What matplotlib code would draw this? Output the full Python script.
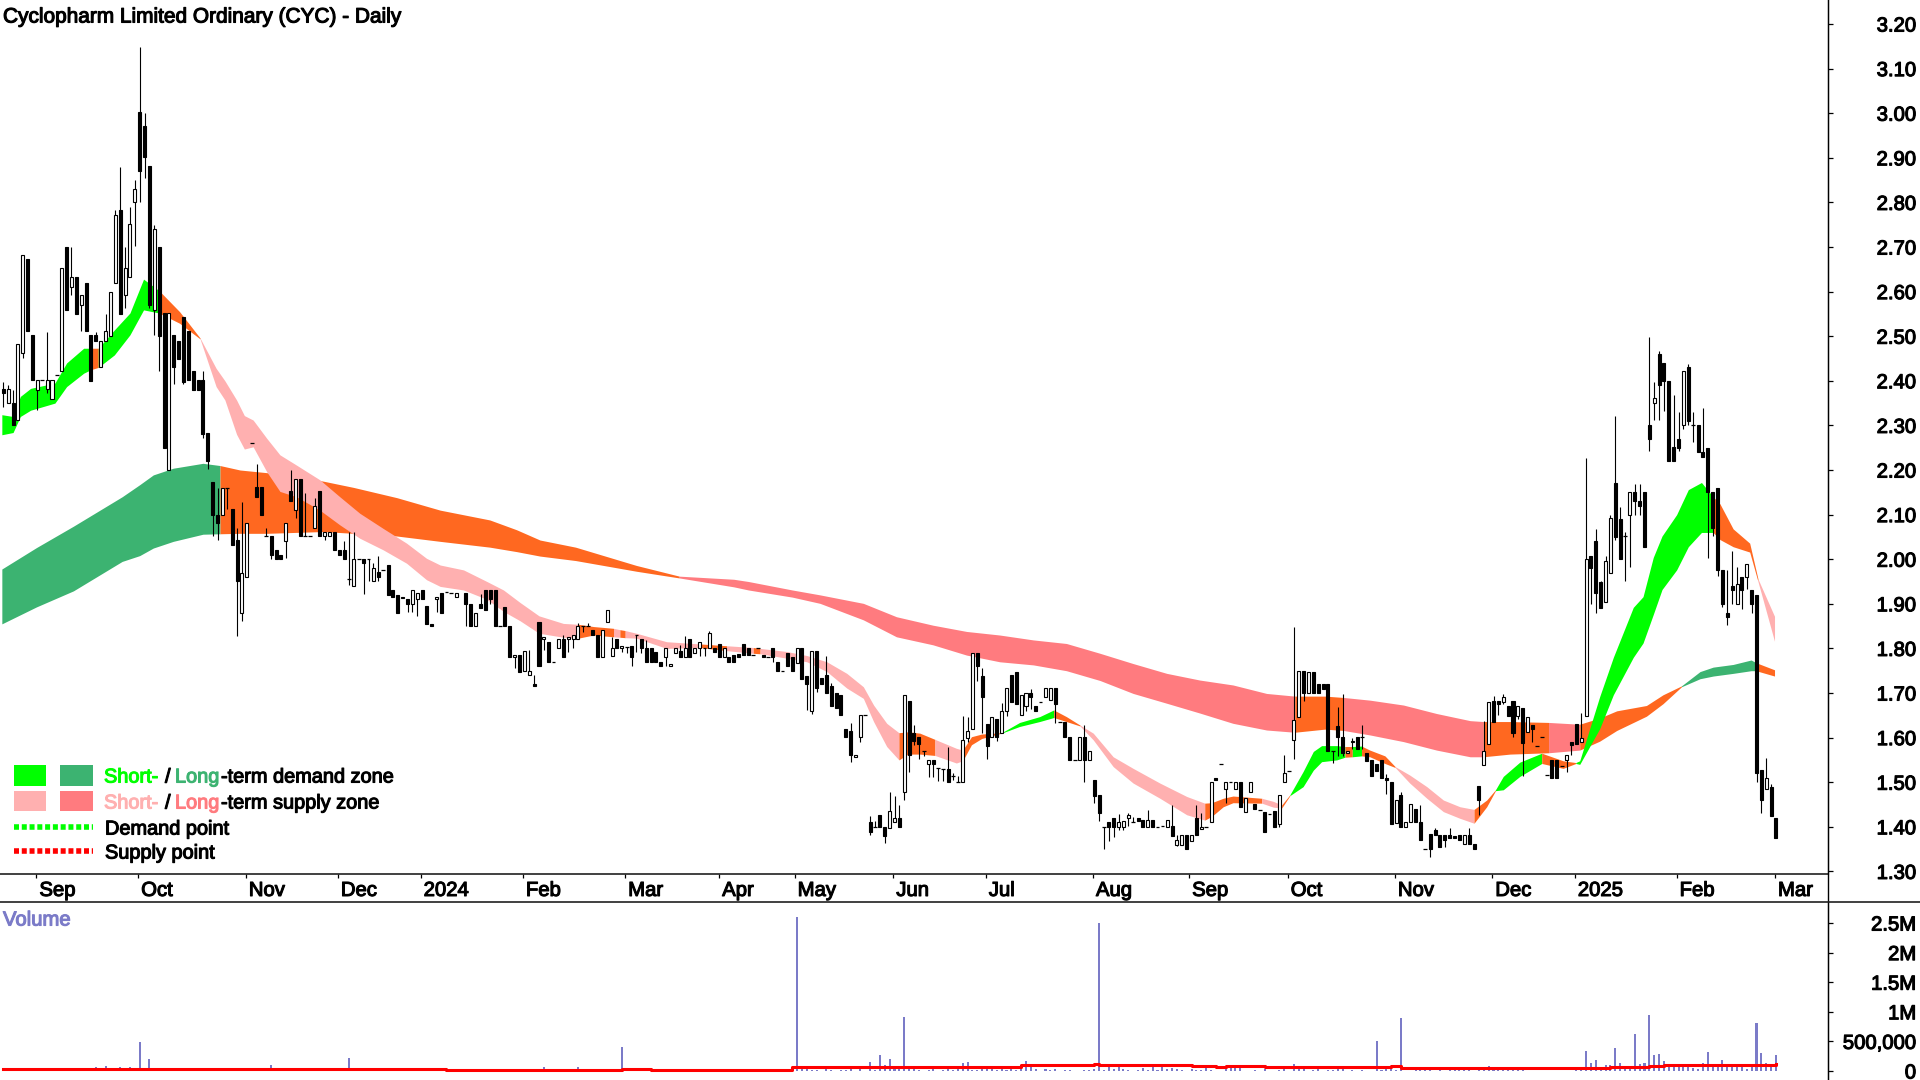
import matplotlib
matplotlib.use("Agg")
import matplotlib.pyplot as plt
import matplotlib.patheffects as pe
from matplotlib.transforms import ScaledTranslation
from matplotlib.lines import Line2D
from matplotlib.patches import Rectangle

nan = float('nan')
TITLE = "Cyclopharm Limited Ordinary (CYC) - Daily"

opens = [
2.381,2.351,2.351,2.311,2.462,2.673,2.503,2.380,2.401,2.381,
2.360,2.412,2.421,2.701,2.611,2.632,2.571,2.620,2.503,2.503,
2.432,2.490,2.501,2.620,2.782,2.593,2.632,2.800,3.002,2.971,
2.881,2.559,2.701,2.552,2.200,2.503,2.490,2.543,2.511,2.421,
2.401,2.401,2.282,2.172,2.099,2.099,2.160,2.112,2.042,1.879,
1.961,2.261,2.161,2.161,2.051,2.051,2.021,2.010,2.041,2.152,
2.110,2.180,2.051,2.051,2.069,2.152,2.051,2.051,2.060,2.021,
2.021,1.956,1.940,2.001,2.001,2.001,1.951,1.971,1.976,1.986,
1.931,1.919,1.916,1.911,1.900,1.910,1.931,1.896,1.855,1.910,
1.925,1.927,1.925,1.915,nan,1.925,1.900,1.850,1.900,1.931,
1.931,1.931,1.850,1.892,1.851,1.781,1.786,1.750,1.741,1.721,
1.860,1.821,1.815,1.770,1.800,1.821,1.820,1.820,1.821,1.850,
1.850,1.841,1.830,1.781,1.859,1.784,1.821,1.802,1.804,1.805,
1.830,1.821,1.800,1.800,1.791,1.769,1.781,1.760,1.789,1.794,
1.781,1.821,1.789,1.800,1.800,1.800,1.800,1.810,1.781,1.781,
1.785,1.787,1.810,1.800,1.785,1.800,1.785,1.781,1.800,1.770,
1.749,1.790,1.781,1.767,1.800,1.737,1.660,1.794,1.733,1.741,
1.716,1.701,1.696,1.619,1.615,1.556,1.601,1.651,1.410,1.399,
1.427,1.399,1.397,1.410,1.419,1.479,1.681,1.610,1.602,1.570,
1.540,1.550,1.531,1.530,1.530,1.515,1.500,1.500,1.600,1.619,
1.790,1.737,1.631,1.601,1.641,1.610,1.660,1.740,1.746,1.651,
1.670,1.701,1.671,1.680,1.690,1.684,1.712,1.636,1.636,1.602,
1.549,1.549,1.601,1.549,1.505,1.472,1.399,1.410,1.419,1.399,
1.399,1.419,1.410,1.419,1.416,1.399,1.416,1.400,1.402,1.399,
1.401,1.360,1.360,1.382,1.369,1.420,1.395,1.399,1.410,1.510,
1.541,1.485,1.500,1.484,1.500,1.434,1.479,1.451,1.438,1.434,
1.428,1.436,1.407,1.500,1.525,1.595,1.646,1.749,1.699,1.746,
1.720,1.720,1.720,1.569,1.626,1.602,1.565,1.591,1.602,1.602,
1.566,1.550,1.541,1.550,1.509,1.501,1.409,1.471,1.399,1.410,
1.440,1.410,1.350,1.383,1.392,1.382,1.382,1.382,1.380,1.382,
1.361,1.382,1.361,1.492,1.539,1.585,1.681,1.681,1.679,1.671,
1.681,1.648,1.667,1.613,1.628,1.581,1.601,1.516,1.550,1.550,
1.536,1.550,1.590,1.630,1.590,1.649,2.008,2.040,1.950,1.904,
1.968,2.171,2.091,2.051,2.099,2.150,2.130,2.150,2.302,2.350,
2.461,2.441,2.399,2.251,2.270,2.301,2.431,2.301,2.302,2.241,
2.250,2.150,2.160,1.976,1.880,1.940,1.900,1.960,1.960,1.931,
1.920,1.528,1.484,1.490,1.420]

closes = [
2.372,2.381,2.301,2.482,2.681,2.511,2.401,2.401,2.401,2.401,
2.401,2.412,2.652,2.559,2.632,2.550,2.592,2.511,2.400,2.490,
2.490,2.511,2.600,2.771,2.550,2.652,2.751,2.831,2.871,2.901,
2.570,2.741,2.501,2.249,2.552,2.432,2.449,2.398,2.401,2.380,
2.380,2.281,2.220,2.099,2.081,2.160,2.160,2.031,1.951,1.970,
2.082,2.261,2.140,2.099,2.051,2.010,2.001,2.001,2.082,2.131,
2.180,2.051,2.051,2.051,2.119,2.051,2.060,2.060,2.021,2.010,
2.001,1.956,2.001,2.001,1.991,2.001,1.981,1.961,1.976,1.919,
1.916,1.879,1.912,1.900,1.931,1.925,1.911,1.854,1.850,1.916,
1.879,1.927,1.925,1.925,nan,1.900,1.850,1.880,1.890,1.886,
1.910,1.850,1.850,1.850,1.781,1.786,1.748,1.795,1.750,1.716,
1.761,1.826,1.770,1.770,1.821,1.781,1.826,1.830,1.850,1.850,
1.850,1.830,1.781,1.841,1.886,1.800,1.802,1.805,1.804,1.781,
1.830,1.800,1.770,1.769,1.769,1.760,1.802,1.765,1.800,1.781,
1.800,1.781,1.800,1.814,1.800,1.834,1.793,1.781,1.800,1.769,
1.769,1.781,1.785,1.785,1.785,1.800,1.780,1.781,1.781,1.749,
1.749,1.760,1.749,1.800,1.731,1.720,1.794,1.711,1.720,1.699,
1.670,1.666,1.651,1.601,1.560,1.561,1.651,1.651,1.389,1.399,
1.399,1.380,1.436,1.419,1.399,1.696,1.561,1.593,1.585,1.570,
1.550,1.540,1.531,1.530,1.500,1.515,1.500,1.595,1.615,1.790,
1.761,1.690,1.581,1.646,1.601,1.660,1.712,1.679,1.675,1.696,
1.701,1.690,1.660,1.680,1.712,1.712,1.675,1.636,1.601,1.549,
1.549,1.601,1.549,1.570,1.470,1.430,1.399,1.399,1.399,1.411,
1.414,1.427,1.410,1.414,1.399,1.416,1.399,1.400,1.402,1.416,
1.380,1.371,1.382,1.350,1.382,1.382,1.399,1.399,1.500,1.505,
1.541,1.500,1.500,1.500,1.444,1.464,1.500,1.439,1.438,1.389,
1.428,1.399,1.472,1.520,1.525,1.640,1.749,1.699,1.746,1.699,
1.699,1.710,1.569,1.569,1.601,1.565,1.570,1.593,1.575,1.602,
1.548,1.515,1.524,1.509,1.504,1.406,1.460,1.399,1.410,1.451,
1.410,1.371,1.350,1.350,1.381,1.354,1.371,1.375,1.375,1.371,
1.382,1.361,1.350,1.459,1.570,1.679,1.636,1.675,1.692,1.648,
1.610,1.671,1.589,1.646,1.619,1.581,1.601,1.516,1.509,1.509,
1.536,1.561,1.584,1.585,1.600,2.000,1.980,1.924,1.891,1.996,
2.092,2.050,2.000,2.051,2.150,2.130,2.119,2.028,2.270,2.361,
2.391,2.399,2.221,2.221,2.250,2.421,2.310,2.301,2.241,2.229,
2.151,2.071,1.976,1.900,1.870,1.931,1.944,1.931,1.990,1.900,
1.520,1.460,1.509,1.424,1.374]

highs = [
2.398,2.391,2.380,2.482,2.681,2.673,2.503,2.401,2.401,2.509,
2.401,2.412,2.652,2.701,2.700,2.632,2.592,2.620,2.503,2.509,
2.490,2.549,2.600,2.782,2.879,2.700,2.789,2.850,3.148,3.000,
2.881,2.750,2.701,2.552,2.552,2.503,2.490,2.543,2.511,2.421,
2.401,2.421,2.282,2.172,2.159,2.160,2.160,2.112,2.069,2.129,
2.082,2.261,2.214,2.161,2.069,2.051,2.021,2.010,2.082,2.199,
2.180,2.180,2.149,2.051,2.138,2.152,2.060,2.060,2.060,2.021,
2.040,2.060,2.060,2.001,2.001,2.001,1.991,2.008,1.976,1.986,
1.931,1.919,1.916,1.911,1.931,1.925,1.931,1.896,1.855,1.916,
1.925,1.927,1.925,1.925,nan,1.925,1.900,1.880,1.921,1.931,
1.931,1.931,1.850,1.892,1.851,1.786,1.786,1.795,1.797,1.741,
1.860,1.826,1.815,1.770,1.821,1.829,1.826,1.830,1.856,1.850,
1.858,1.841,1.830,1.841,1.886,1.826,1.821,1.805,1.804,1.805,
1.830,1.821,1.819,1.800,1.791,1.769,1.802,1.765,1.800,1.808,
1.828,1.821,1.800,1.814,1.800,1.840,1.800,1.810,1.800,1.781,
1.785,1.787,1.810,1.800,1.785,1.800,1.785,1.781,1.802,1.770,
1.749,1.790,1.781,1.800,1.800,1.737,1.794,1.794,1.733,1.784,
1.723,1.701,1.696,1.619,1.632,1.561,1.651,1.651,1.425,1.412,
1.427,1.399,1.479,1.469,1.449,1.696,1.681,1.628,1.602,1.570,
1.550,1.550,1.531,1.530,1.580,1.520,1.513,1.649,1.647,1.790,
1.790,1.755,1.631,1.646,1.641,1.677,1.712,1.740,1.746,1.696,
1.701,1.709,1.671,1.680,1.712,1.712,1.712,1.636,1.636,1.602,
1.549,1.601,1.628,1.570,1.505,1.472,1.399,1.410,1.419,1.429,
1.414,1.432,1.423,1.419,1.416,1.438,1.416,1.400,1.402,1.416,
1.449,1.382,1.382,1.382,1.382,1.449,1.430,1.399,1.500,1.510,
1.541,1.500,1.500,1.500,1.500,1.464,1.500,1.451,1.438,1.434,
1.428,1.436,1.472,1.560,1.525,1.849,1.749,1.749,1.746,1.746,
1.720,1.720,1.720,1.569,1.668,1.697,1.570,1.600,1.602,1.628,
1.566,1.550,1.541,1.550,1.518,1.501,1.460,1.477,1.410,1.451,
1.440,1.449,1.350,1.383,1.397,1.382,1.382,1.397,1.380,1.382,
1.382,1.397,1.361,1.492,1.637,1.679,1.694,1.681,1.698,1.671,
1.681,1.671,1.667,1.646,1.628,1.581,1.601,1.516,1.550,1.550,
1.536,1.561,1.590,1.630,1.656,2.228,2.008,2.068,1.950,2.008,
2.099,2.321,2.118,2.060,2.150,2.169,2.169,2.150,2.499,2.398,
2.466,2.441,2.399,2.369,2.329,2.421,2.438,2.329,2.302,2.338,
2.250,2.150,2.160,1.976,1.975,2.019,1.982,1.960,1.990,1.931,
1.920,1.528,1.554,1.496,1.420]

lows = [
2.341,2.351,2.301,2.311,2.451,2.511,2.401,2.334,2.401,2.372,
2.360,2.412,2.421,2.559,2.593,2.550,2.511,2.511,2.400,2.490,
2.432,2.490,2.501,2.620,2.550,2.563,2.632,2.703,2.802,2.854,
2.563,2.503,2.423,2.249,2.200,2.393,2.449,2.393,2.401,2.380,
2.380,2.272,2.202,2.052,2.043,2.099,2.112,2.031,1.828,1.862,
1.961,2.261,2.140,2.099,2.051,2.001,2.001,2.001,2.002,2.131,
2.092,2.051,2.051,2.051,2.069,2.051,2.043,2.051,2.021,2.010,
2.001,1.942,1.940,2.001,1.921,1.950,1.951,1.951,1.976,1.919,
1.916,1.879,1.912,1.881,1.881,1.873,1.911,1.854,1.850,1.881,
1.879,1.927,1.925,1.915,nan,1.851,1.850,1.850,1.890,1.886,
1.900,1.850,1.850,1.850,1.781,1.757,1.748,1.750,1.741,1.716,
1.761,1.797,1.770,1.770,1.800,1.781,1.791,1.802,1.821,1.836,
1.850,1.830,1.781,1.781,1.859,1.784,1.802,1.791,1.789,1.761,
1.791,1.789,1.770,1.769,1.769,1.760,1.761,1.760,1.789,1.781,
1.781,1.781,1.789,1.782,1.782,1.800,1.793,1.781,1.781,1.769,
1.769,1.781,1.785,1.785,1.785,1.800,1.780,1.781,1.770,1.749,
1.749,1.760,1.749,1.767,1.731,1.662,1.653,1.703,1.720,1.699,
1.670,1.666,1.651,1.601,1.545,1.556,1.591,1.651,1.382,1.399,
1.399,1.363,1.397,1.410,1.399,1.459,1.522,1.584,1.552,1.559,
1.511,1.511,1.503,1.503,1.500,1.505,1.500,1.500,1.591,1.619,
1.727,1.611,1.551,1.601,1.593,1.610,1.649,1.679,1.675,1.651,
1.660,1.664,1.660,1.680,1.690,1.684,1.632,1.636,1.601,1.549,
1.549,1.549,1.501,1.549,1.453,1.412,1.351,1.369,1.378,1.392,
1.392,1.401,1.410,1.414,1.399,1.399,1.399,1.400,1.402,1.399,
1.380,1.356,1.360,1.350,1.369,1.382,1.395,1.399,1.410,1.505,
1.541,1.453,1.500,1.484,1.444,1.434,1.479,1.439,1.438,1.389,
1.428,1.399,1.399,1.500,1.525,1.551,1.646,1.682,1.699,1.699,
1.699,1.710,1.569,1.542,1.559,1.559,1.565,1.575,1.575,1.575,
1.548,1.515,1.524,1.509,1.473,1.406,1.409,1.399,1.399,1.410,
1.410,1.371,1.350,1.332,1.381,1.354,1.354,1.375,1.375,1.371,
1.361,1.361,1.350,1.427,1.539,1.585,1.636,1.651,1.675,1.648,
1.602,1.642,1.513,1.613,1.591,1.581,1.601,1.516,1.509,1.509,
1.536,1.522,1.562,1.585,1.590,1.649,1.900,1.880,1.891,1.904,
1.968,2.043,2.000,1.952,1.982,2.100,2.100,2.028,2.242,2.313,
2.311,2.333,2.221,2.221,2.242,2.291,2.301,2.262,2.241,2.229,
2.003,2.052,1.963,1.892,1.852,1.900,1.900,1.888,1.934,1.880,
1.501,1.432,1.484,1.424,1.374]

short_bar = [
-0.3,2,3.5,5.6,10.6,13,16.5,18,19.5,22.8,
26,28.8,32,36.2,40.4,43.7,45.5,47.9,49.5,51.3,
54.1,56.8,60.2,65,69.1,73.2,78,82.8,86.9,89.7,
94.5,99.3,102.7,106.1,110,115,118.1,121.2,125.3,126.6,
127.7,130,136.2,143.1,148.5,154,155.4,160.9,165,169.1,
173.2,176.6,178.7,181.4,183.9,185.8,188.2,191.3,195.7,197,
198.8,200.9,205,208.7,212.8,215.7,218.3,221.1,223.8,227.9,
232,237.5,243,246.7,248.1,250.5,252.5,258.4,260.8,262.5,
264.2,266.9,269,270.7,273.8,275.5,277,278.9,280.6,283.7,
285.8,288.8,292.3,295.7,299.1,302,304.6,306.4,308,311.4,
315.9,320.3,322.9,323.7,327.8,330.6,334.7,336.7,338.8,340.6,
343.6,346,348.7,351.1,352.5,355.2,358.6,360.3,363.7]
short_up = [
2.324,2.320,2.365,2.383,2.395,2.440,2.473,2.473,2.473,2.514,
2.552,2.628,2.602,2.555,2.496,2.428,2.400,2.357,2.322,2.312,
2.271,2.234,2.211,2.178,2.140,2.103,2.069,2.036,2.002,1.987,
1.976,1.950,1.931,1.903,1.873,1.856,1.854,1.849,1.845,1.842,
1.840,1.834,1.815,1.810,1.806,1.802,1.800,1.793,1.784,1.770,
1.744,1.714,1.673,1.632,1.611,1.613,1.610,1.596,1.576,1.572,
1.602,1.608,1.611,1.634,1.647,1.662,1.647,1.628,1.610,1.557,
1.531,1.498,1.468,1.453,1.454,1.464,1.469,1.464,1.457,1.449,
1.472,1.524,1.569,1.582,1.582,1.580,1.580,1.581,1.572,1.559,
1.535,1.516,1.490,1.460,1.445,1.439,1.460,1.483,1.513,1.545,
1.565,1.548,1.544,1.548,1.692,1.780,1.892,1.916,2.004,2.052,
2.100,2.156,2.172,2.140,2.124,2.068,2.036,1.956,1.872]
short_lo = [
2.279,2.284,2.320,2.334,2.350,2.387,2.417,2.425,2.430,2.458,
2.503,2.559,2.552,2.529,2.494,2.387,2.357,2.280,2.247,2.252,
2.196,2.152,2.140,2.110,2.077,2.047,2.021,1.991,1.954,1.939,
1.931,1.910,1.883,1.862,1.834,1.825,1.823,1.830,1.826,1.825,
1.824,1.823,1.800,1.802,1.795,1.789,1.788,1.778,1.770,1.748,
1.711,1.688,1.636,1.580,1.550,1.563,1.563,1.560,1.543,1.548,
1.584,1.598,1.610,1.625,1.636,1.645,1.636,1.626,1.595,1.535,
1.498,1.464,1.427,1.415,1.423,1.445,1.454,1.453,1.444,1.442,
1.470,1.490,1.527,1.546,1.550,1.556,1.557,1.559,1.557,1.542,
1.533,1.498,1.464,1.434,1.419,1.408,1.445,1.481,1.483,1.513,
1.542,1.531,1.542,1.540,1.620,1.696,1.780,1.812,1.876,1.932,
1.976,2.028,2.060,2.060,2.044,2.028,2.016,1.950,1.816]
short_kind = ("GGGGGGGOGG" "GGOOPPPPPP" "PPPPPPPPPP" "PPPPPPOOPO" "PPPOPOPPPP"
              "PPPPOOOPPO" "OOGGGOOPPP" "PPPOOOOPPO" "GGGGGOGOOO" "PPPPPOOGGG"
              "OOGGGGGGGG" "GGGOOOOPP")

long_bar = [
-0.3,6.8,14.4,24.4,28,30.8,34.9,41,44.5,48.6,
54.1,65.7,71.9,80.8,89.7,99.9,105.4,110.2,117.5,130,
138.8,150,153,162,167.7,176.6,183.4,190.9,197.8,204.6,
211.5,218.3,225.2,232,238.9,245.7,252.5,259.4,265.2,271.4,
275.2,280.6,287.5,294.3,301.2,303.9,309.4,317.3,323.7,327.8,
331.3,337.4,340.8,344.6,348.4,351.1,355.2,358.9,359.9,363.7]
long_up = [
1.978,2.026,2.074,2.140,2.167,2.189,2.204,2.215,2.210,2.200,
2.194,2.175,2.161,2.138,2.110,2.088,2.066,2.043,2.027,1.986,
1.962,1.955,1.950,1.931,1.920,1.901,1.871,1.852,1.838,1.830,
1.819,1.811,1.789,1.766,1.744,1.729,1.718,1.699,1.693,1.693,
1.690,1.684,1.673,1.654,1.638,1.636,1.636,1.634,1.630,1.644,
1.660,1.672,1.696,1.716,1.748,1.758,1.764,1.774,1.768,1.752]
long_lo = [
1.855,1.893,1.929,1.995,2.008,2.025,2.040,2.056,2.057,2.058,
2.058,2.062,2.058,2.052,2.040,2.027,2.017,2.007,1.997,1.973,
1.958,1.938,1.931,1.915,1.901,1.864,1.826,1.808,1.785,1.770,
1.763,1.750,1.728,1.699,1.677,1.655,1.632,1.617,1.612,1.619,
1.616,1.606,1.591,1.572,1.557,1.557,1.563,1.566,1.572,1.592,
1.616,1.648,1.676,1.714,1.732,1.738,1.744,1.750,1.750,1.738]
long_kind = ("GGGGGGGGOO" "OOOOOOOOOO" "PPPPPPPPPP" "PPPPPPPPOO"
             "PPPPPOOPOO" "OOOGGGGGOO")

vol_bar = [
3,4,5,6,7,8,9,10,12,13,14,15,16,17,18,19,20,21,22,23,24,25,26,27,28,29,30,31,32,33,34,35,37,
41,42,43,44,45,47,48,49,52,55,56,58,59,60,61,62,64,65,66,67,69,70,71,74,76,79,80,84,85,86,87,90,
95,96,97,98,99,100,101,102,103,105,106,107,108,110,111,112,113,115,116,117,118,120,123,125,126,127,128,129,
131,132,134,135,136,138,139,141,144,145,147,156,157,158,159,161,162,163,164,165,166,167,169,170,172,173,174,176,
178,179,180,181,182,183,184,185,186,187,188,190,191,193,194,195,196,197,198,199,200,201,202,203,204,205,206,207,208,
209,210,211,212,214,215,216,218,219,222,223,224,225,226,227,228,229,230,231,233,234,235,236,237,238,239,240,241,242,
244,245,246,247,248,251,252,253,254,257,259,262,263,265,266,267,269,270,272,273,274,275,277,279,282,283,284,285,286,287,
290,291,292,293,295,297,298,299,300,301,303,304,305,306,307,308,309,310,311,312,323,324,325,326,327,328,329,330,
331,332,333,334,335,336,337,338,339,340,341,342,343,344,345,346,347,348,349,350,351,352,353,354,355,356,357,358,359,360,361,362,363,364]
vol_val = [
28,28,34,28,28,34,28,28,28,28,34,28,34,28,28,73,34,84,34,34,62,34,62,28,484,45,197,34,34,28,28,28,22,
22,28,22,22,28,28,28,22,22,101,28,22,22,28,22,22,22,28,28,22,28,28,214,22,22,22,22,28,28,28,22,22,
22,28,22,34,34,28,22,22,28,28,34,28,28,22,73,28,28,22,28,28,73,22,39,28,28,400,17,39,
17,17,17,17,17,17,17,17,22,22,17,17,17,17,17,17,17,2601,28,28,11,11,62,11,11,11,28,28,
146,11,265,96,197,28,45,907,79,79,11,11,28,11,45,11,28,130,146,11,11,62,45,79,11,45,11,28,11,
90,175,62,28,28,11,28,11,11,11,11,28,2500,11,62,28,90,28,11,11,45,11,113,11,90,28,45,28,11,
28,11,11,62,11,28,62,45,45,11,28,11,62,113,45,62,11,28,11,11,62,28,11,11,501,11,28,62,11,890,
28,11,28,28,45,11,11,11,11,45,11,45,90,45,28,45,28,45,28,28,34,34,338,141,186,17,101,101,
383,135,62,62,625,113,130,946,265,287,169,101,101,101,101,101,45,28,130,321,101,101,186,101,62,113,113,28,62,811,304,135,68,270]

avg_bar = [0,91,127,133,162,209,224,225,244,249,251,259,285,287,330,338,341,364]
avg_val = [28,11,28,11,68,96,118,101,84,62,84,62,84,45,62,84,107,124]

month_bars = [6.8,27.7,49.8,68.7,85.7,106.7,127.7,147,162.5,182.75,201.75,223.75,243.5,263.75,285.75,305.75,322.7,343.6,363.8]
month_labels = ["Sep","Oct","Nov","Dec","2024","Feb","Mar","Apr","May","Jun","Jul","Aug",
                "Sep","Oct","Nov","Dec","2025","Feb","Mar"]
price_ticks = [1.3,1.4,1.5,1.6,1.7,1.8,1.9,2.0,2.1,2.2,2.3,2.4,2.5,2.6,2.7,2.8,2.9,3.0,3.1,3.2]
vol_ticks = [0,500,1000,1500,2000,2500]
vol_labels = ["0","500,000","1M","1.5M","2M","2.5M"]

SHORT_COL = {"G":"#00FF00","O":"#FF6820","P":"#FFB0B0"}
LONG_COL = {"G":"#3CB371","O":"#FF6820","P":"#FF7B7F"}
VOLC = "#7B7BC8"
W, H = 1920, 1080
FONT = "Liberation Sans"
FS = 14.6
SW = 0.8
stroke = [pe.withStroke(linewidth=SW, foreground="black")]

fig = plt.figure(figsize=(19.2,10.8), dpi=100, facecolor="white")
ax = fig.add_axes([0,(H-874)/H,1828/W,874/H])
axv = fig.add_axes([0,0,1828/W,(H-902)/H])
ov = fig.add_axes([0,0,1,1], zorder=10)
ov.set_xlim(0,W); ov.set_ylim(H,0); ov.axis("off"); ov.patch.set_alpha(0)

def bands(a, xs, up, lo, kind, cols):
    start = 0
    for i in range(1,len(xs)):
        if i == len(xs)-1 or kind[i] != kind[start]:
            a.fill_between(xs[start:i+1], lo[start:i+1], up[start:i+1],
                           color=cols[kind[start]], lw=0, zorder=1)
            start = i

bands(ax, long_bar, long_up, long_lo, long_kind, LONG_COL)
bands(ax, short_bar, short_up, short_lo, short_kind, SHORT_COL)

BW = 0.62
for i,(o,h,l,c) in enumerate(zip(opens,highs,lows,closes)):
    if o != o:
        continue
    ax.vlines(i, l, h, color="black", lw=0.8, zorder=3, snap=True)
    if o == c:
        ax.hlines(o, i-0.38, i+0.38, color="black", lw=0.9, zorder=4, snap=True)
    else:
        ax.bar(i, abs(c-o), BW, bottom=min(o,c), facecolor="white" if c>o else "black",
               edgecolor="black", lw=0.8, zorder=4)

axv.bar(vol_bar, [v*1000 for v in vol_val], 0.42, color=VOLC, lw=0, zorder=2)
axv.step(avg_bar, [v*1000 for v in avg_val], where="post", color="#FF0000", lw=2.2, zorder=3)

xl = (-3.3/4.87, (1828-3.3)/4.87)
for a in (ax,axv):
    a.set_xlim(*xl)
    for s in ("left","top"):
        a.spines[s].set_visible(False)
    a.yaxis.tick_right()
ax.set_ylim(1.40+(826.8-874)/446, 1.40+826.8/446)
axv.set_ylim(-9/29.6*500000, (1071-902)/29.6*500000)
axv.spines["bottom"].set_visible(False)
ax.spines["bottom"].set_linewidth(1.2)
ax.spines["bottom"].set_color("#202020")
axv.set_xticks([])

ax.set_yticks(price_ticks, [f"{v:.2f}" for v in price_ticks])
axv.set_yticks([v*1000 for v in vol_ticks], vol_labels)
for a in (ax,axv):
    a.tick_params(axis="y", direction="out", length=3.6, width=0.9, pad=59.8)
    for t in a.get_yticklabels():
        t.set_ha("right"); t.set_fontfamily(FONT); t.set_fontsize(FS); t.set_path_effects(stroke)

ax.set_xticks(month_bars, month_labels)
ax.tick_params(axis="x", direction="out", length=3, width=0.9, pad=2)
off = ScaledTranslation(3/100,0,fig.dpi_scale_trans)
for t in ax.get_xticklabels():
    t.set_ha("left"); t.set_fontfamily(FONT); t.set_fontsize(FS); t.set_path_effects(stroke)
    t.set_transform(t.get_transform()+off)

ov.add_line(Line2D([1828,1828],[0,H],color="black",lw=1.0))
ov.add_line(Line2D([0,W],[902,902],color="#202020",lw=1.2))

def txt(x,y,s,c="black",fs=14.35):
    ov.text(x,y,s,color=c,family=FONT,fontsize=fs,va="center",ha="left",
            path_effects=[pe.withStroke(linewidth=SW,foreground=c)])

txt(3,17,TITLE,fs=15.0)
txt(3,920,"Volume",VOLC,fs=14.6)
ov.add_patch(Rectangle((14,765),32,21,color="#00FF00",lw=0))
ov.add_patch(Rectangle((60,765),33,21,color="#3CB371",lw=0))
ov.add_patch(Rectangle((14,791),32,20,color="#FFB0B0",lw=0))
ov.add_patch(Rectangle((60,791),33,20,color="#FF7B7F",lw=0))
for y,a,b,tail in ((777,"#00FF00","#3CB371","-term demand zone"),(803,"#FFB0B0","#FF7B7F","-term supply zone")):
    txt(104,y,"Short-",a); txt(165,y,"/"); txt(175,y,"Long",b); txt(221,y,tail)
txt(105,829,"Demand point"); txt(105,853,"Supply point")
ov.add_line(Line2D([14,93],[827,827],color="#00FF00",lw=4.0,dashes=(0.9,0.5),dash_capstyle="butt"))
ov.add_line(Line2D([14,93],[851,851],color="#FF0000",lw=4.0,dashes=(0.9,0.5),dash_capstyle="butt"))

assert len(opens)==len(closes)==len(highs)==len(lows), (len(opens),len(closes),len(highs),len(lows))
assert len(short_bar)==len(short_up)==len(short_lo)==len(short_kind), (len(short_bar),len(short_up),len(short_lo),len(short_kind))
assert len(long_bar)==len(long_up)==len(long_lo)==len(long_kind)
assert len(vol_bar)==len(vol_val), (len(vol_bar),len(vol_val))

fig.savefig("out.png", dpi=100, facecolor="white")
